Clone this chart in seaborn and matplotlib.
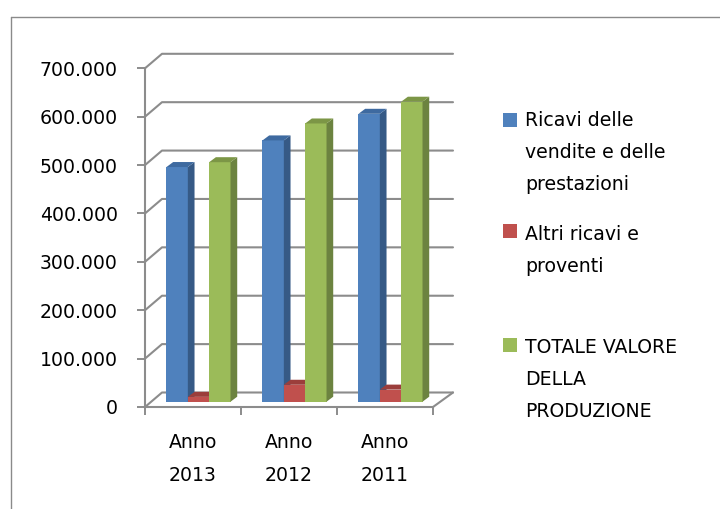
import numpy as np
import pandas as pd
import matplotlib
matplotlib.use("Agg")
import matplotlib.pyplot as plt
import seaborn as sns
from matplotlib.transforms import Affine2D, IdentityTransform
from matplotlib.patches import Polygon, Rectangle
from matplotlib.lines import Line2D

# ---------------- data ----------------
categories = ["Anno\n2013", "Anno\n2012", "Anno\n2011"]
series = ["Ricavi delle\nvendite e delle\nprestazioni",
          "Altri ricavi e\nproventi",
          "TOTALE VALORE\nDELLA\nPRODUZIONE"]
ricavi = [485000, 540000, 595000]
altri = [10000, 35000, 25000]
totale = [495000, 575000, 620000]
yticks = [0, 100000, 200000, 300000, 400000, 500000, 600000, 700000]
ytick_labels = ["0", "100.000", "200.000", "300.000", "400.000",
                "500.000", "600.000", "700.000"]

front_colors = ["#4F81BD", "#C0504D", "#9BBB59"]
side_colors = ["#365A86", "#8C3835", "#6C8340"]
top_colors = ["#3E6AA0", "#9B3E3B", "#7C9646"]
grid_color = "#8C8C8C"

df = pd.DataFrame({
    "Anno": categories * 3,
    "Voce": [series[0]] * 3 + [series[1]] * 3 + [series[2]] * 3,
    "Valore": ricavi + altri + totale,
})

# ---------------- style ----------------
sns.set_style("white")
plt.rcParams["font.family"] = ["DejaVu Sans"]
FS = 13.6
LS = 1.88

W, H = 720, 509
fig = plt.figure(figsize=(W / 100, H / 100), dpi=100)
fig.patch.set_facecolor("white")

# outer chart border (extends past right/bottom edges)
fig.add_artist(Line2D([10.5, 10.5], [-5, H - 16.5], transform=IdentityTransform(),
                      color="#8A8A8A", lw=1.0))
fig.add_artist(Line2D([10.5, W + 5], [H - 16.5, H - 16.5], transform=IdentityTransform(),
                      color="#8A8A8A", lw=1.0))

ax_l, ax_r = 145, 433
ax_b, ax_t = H - 407, H - 68.3
ax = fig.add_axes([ax_l / W, ax_b / H, (ax_r - ax_l) / W, (ax_t - ax_b) / H])
ax.patch.set_visible(False)

sns.barplot(data=df, x="Anno", y="Valore", hue="Voce", order=categories,
            hue_order=series, palette=front_colors, saturation=1, width=0.667,
            ax=ax, legend=False)

ax.set_xlim(-0.5, 2.5)
ax.set_ylim(0, 700000)
ax.set_xlabel("")
ax.set_ylabel("")

for s in ["top", "right"]:
    ax.spines[s].set_visible(False)
for s in ["left", "bottom"]:
    ax.spines[s].set_color(grid_color)
    ax.spines[s].set_linewidth(1.5)

ax.set_yticks(yticks)
ax.set_yticklabels(ytick_labels, fontsize=FS, color="black")
ax.tick_params(axis="y", length=6, width=1.4, color=grid_color, pad=13.5, left=True,
               labelcolor="black")
ax.set_xticks(range(len(categories)))
ax.set_xticklabels(categories, fontsize=FS, linespacing=LS, color="black")
ax.tick_params(axis="x", which="major", length=0, pad=19, labelcolor="black")
ax.set_xticks([-0.5, 0.5, 1.5, 2.5], minor=True)
ax.tick_params(axis="x", which="minor", length=5.5, width=1.4, color=grid_color,
               bottom=True)
ax.grid(False)

# ---------------- pseudo-3D walls ----------------
TD = ax.transData
dx_l, dx_r, dy_w = 17, 20, 14.5
for v in yticks:
    xf, yf = TD.transform((-0.5, v))
    xr, _ = TD.transform((2.5, v))
    ax.add_line(Line2D([xf, xf + dx_l, xr + dx_r], [yf, yf + dy_w, yf + dy_w],
                       transform=IdentityTransform(), color=grid_color, lw=1.5,
                       clip_on=False, zorder=0.5))
# floor right edge
xr0, yr0 = TD.transform((2.5, 0))
ax.add_line(Line2D([xr0, xr0 + dx_r], [yr0, yr0 + dy_w], transform=IdentityTransform(),
                   color=grid_color, lw=1.5, clip_on=False, zorder=0.5))

# ---------------- pseudo-3D bars ----------------
ox, oy = 5.5, 5.3       # bar set-back from front plane (pixels)
ddx, ddy = 6.7, 5.0     # bar depth (pixels)
for k, cont in enumerate(ax.containers):
    for p in cont.patches:
        p.set_transform(TD + Affine2D().translate(ox, oy))
        p.set_zorder(2 + k * 0.1)
        p.set_edgecolor("none")
        x0, y0 = TD.transform((p.get_x(), p.get_y()))
        x1, y1 = TD.transform((p.get_x() + p.get_width(), p.get_y() + p.get_height()))
        x0, x1, y0, y1 = x0 + ox, x1 + ox, y0 + oy, y1 + oy
        side = Polygon([(x1, y0), (x1 + ddx, y0 + ddy), (x1 + ddx, y1 + ddy), (x1, y1)],
                       closed=True, transform=IdentityTransform(),
                       facecolor=side_colors[k], edgecolor="none",
                       zorder=2 + k * 0.1 + 0.01, clip_on=False)
        top = Polygon([(x0, y1), (x1, y1), (x1 + ddx, y1 + ddy), (x0 + ddx, y1 + ddy)],
                      closed=True, transform=IdentityTransform(),
                      facecolor=top_colors[k], edgecolor="none",
                      zorder=2 + k * 0.1 + 0.02, clip_on=False)
        ax.add_patch(side)
        ax.add_patch(top)

# ---------------- legend ----------------
first_baselines = [127, 238, 352]
last_baselines = [190, 272, 417]
for k, lab in enumerate(series):
    yb = H - first_baselines[k]
    fig.add_artist(Rectangle((503, yb), 14, 14, transform=IdentityTransform(),
                             facecolor=front_colors[k], edgecolor="none"))
    fig.text(525 / W, (H - last_baselines[k]) / H, lab, fontsize=FS, ha="left",
             va="baseline", linespacing=LS, color="black")

fig.savefig("out.png", dpi=100, facecolor="white")
